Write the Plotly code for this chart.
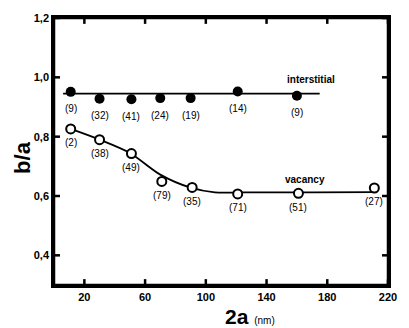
import plotly.graph_objects as go

# Interstitial (filled circles)
int_x = [11, 30, 51, 70, 90, 121, 160]
int_y = [0.951, 0.928, 0.926, 0.930, 0.930, 0.952, 0.938]
int_n = ["(9)", "(32)", "(41)", "(24)", "(19)", "(14)", "(9)"]
int_line_x = [6, 175]
int_line_y = [0.945, 0.945]

# Vacancy (open circles)
vac_x = [11, 30, 51, 71, 91, 121, 161, 211]
vac_y = [0.826, 0.790, 0.743, 0.649, 0.629, 0.607, 0.609, 0.627]
vac_n = ["(2)", "(38)", "(49)", "(79)", "(35)", "(71)", "(51)", "(27)"]
vac_fit_x = [11, 30, 50, 70, 90, 106, 125, 170, 211]
vac_fit_y = [0.826, 0.790, 0.745, 0.672, 0.628, 0.612, 0.612, 0.612, 0.613]

x_ticks = [20, 60, 100, 140, 180, 220]
y_ticks = [0.4, 0.6, 0.8, 1.0, 1.2]
y_tick_text = ["0,4", "0,6", "0,8", "1,0", "1,2"]

FONT = "Liberation Sans, Arial, sans-serif"
X_RANGE = [0, 220]
Y_RANGE = [0.3, 1.2]

fig = go.Figure()

fig.add_trace(go.Scatter(x=int_line_x, y=int_line_y, mode="lines",
                         line=dict(color="black", width=1.8), hoverinfo="skip"))
fig.add_trace(go.Scatter(x=int_x, y=int_y, mode="markers",
                         marker=dict(color="black", size=10, symbol="circle")))
fig.add_trace(go.Scatter(x=vac_fit_x, y=vac_fit_y, mode="lines",
                         line=dict(color="black", width=1.8, shape="spline", smoothing=0.8),
                         hoverinfo="skip"))
fig.add_trace(go.Scatter(x=vac_x, y=vac_y, mode="markers",
                         marker=dict(color="white", size=9, symbol="circle",
                                     line=dict(color="black", width=2))))

# frame and inward ticks built from the axis ranges / tick lists (drawn on top)
x0, x1 = X_RANGE
y0, y1 = Y_RANGE
tx = (x1 - x0) * 0.018
ty = (y1 - y0) * 0.022
fx = [x0, x1, x1, x0, x0, None]
fy = [y0, y0, y1, y1, y0, None]
for v in x_ticks:
    fx += [v, v, None, v, v, None]
    fy += [y0, y0 + ty, None, y1, y1 - ty, None]
for v in y_ticks:
    fx += [x0, x0 + tx, None, x1, x1 - tx, None]
    fy += [v, v, None, v, v, None]
fig.add_trace(go.Scatter(x=fx, y=fy, mode="lines", cliponaxis=False,
                         line=dict(color="black", width=2.5), hoverinfo="skip"))

lab_font = dict(family=FONT, size=10, color="black")
for x, y, t in zip(int_x, int_y, int_n):
    fig.add_annotation(x=x, y=y, text=t, showarrow=False, yshift=-17, font=lab_font)
for x, y, t in zip(vac_x, vac_y, vac_n):
    fig.add_annotation(x=x, y=y, text=t, showarrow=False, yshift=-14, font=lab_font)

fig.add_annotation(x=169, y=0.994, text="<b>interstitial</b>", showarrow=False,
                   font=dict(family=FONT, size=10, color="black"))
fig.add_annotation(x=165.5, y=0.655, text="<b>vacancy</b>", showarrow=False,
                   font=dict(family=FONT, size=10, color="black"))

# axis titles
fig.add_annotation(xref="paper", yref="paper", x=0.586, y=0, yshift=-31,
                   xanchor="center", yanchor="middle", showarrow=False,
                   text="<b>2a</b> <span style='font-size:10px'>(nm)</span>",
                   font=dict(family=FONT, size=21, color="black"))
fig.add_annotation(xref="paper", yref="paper", x=0, y=0.476, xshift=-31,
                   xanchor="center", yanchor="middle", showarrow=False, textangle=-90,
                   text="<b>b/a</b>",
                   font=dict(family=FONT, size=22, color="black"))

axis_common = dict(showline=True, linecolor="black", linewidth=2.5, mirror=True,
                   ticks="", showgrid=False, zeroline=False,
                   tickfont=dict(family=FONT, size=11, color="black"))

fig.update_layout(
    xaxis=dict(range=X_RANGE, tickvals=x_ticks,
               ticktext=["<b>%d</b>" % v for v in x_ticks], **axis_common),
    yaxis=dict(range=Y_RANGE, tickvals=y_ticks,
               ticktext=["<b>%s</b>" % t for t in y_tick_text], **axis_common),
)

fig.update_layout(width=409, height=328, showlegend=False,
                  plot_bgcolor="white", paper_bgcolor="white",
                  margin=dict(l=54, r=17, t=14, b=43))
fig.write_html("out.html", config={"displayModeBar": False},
               post_script="document.body.style.margin='0';document.body.style.overflow='hidden';")
